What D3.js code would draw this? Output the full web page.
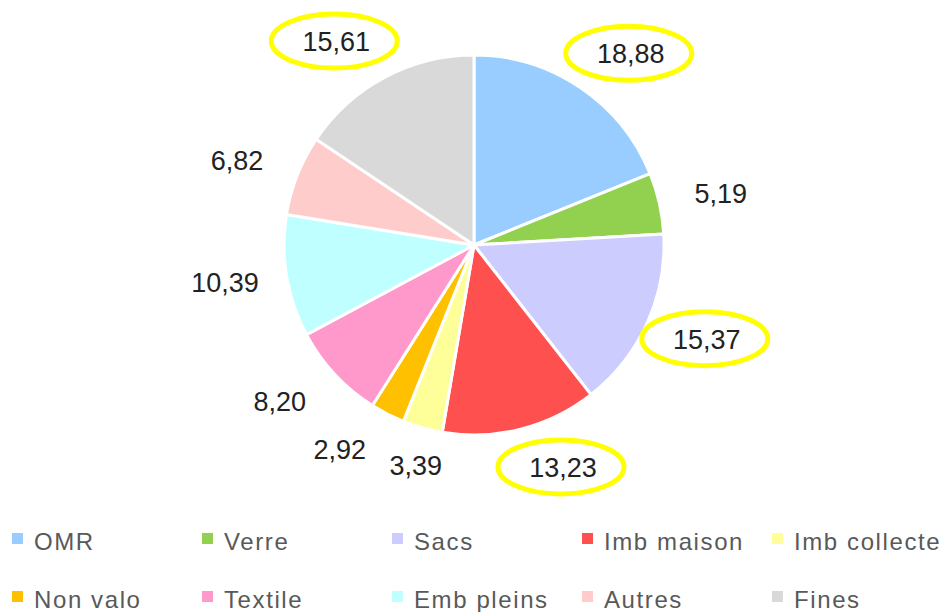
<!DOCTYPE html>
<html>
<head>
<meta charset="utf-8">
<script src="https://cdn.jsdelivr.net/npm/d3@7/dist/d3.min.js"></script>
<style>
  body { margin: 0; background: #fff; }
  svg { display: block; }
</style>
</head>
<body>
<div id="chart"></div>
<script>
const categories = ["OMR", "Verre", "Sacs", "Imb maison", "Imb collecte",
  "Non valo", "Textile", "Emb pleins", "Autres", "Fines"];
const values = [18.88, 5.19, 15.37, 13.23, 3.39, 2.92, 8.20, 10.39, 6.82, 15.61];
const colors = ["#99CCFF", "#92D050", "#CCCCFF", "#FF5050", "#FFFF99",
  "#FFC000", "#FF99CC", "#C0FFFF", "#FFCCCC", "#D9D9D9"];
// labels circled in yellow on the original
const highlighted = ["OMR", "Sacs", "Imb maison", "Fines"];

const width = 951, height = 612;
const cx = 474, cy = 245, radius = 190, labelRadius = 216;
const labelW = 72, labelH = 28;

const svg = d3.select("#chart")
  .append("svg")
  .attr("width", width)
  .attr("height", height);

const data = categories.map((c, i) => ({ name: c, value: values[i], color: colors[i] }));

const pie = d3.pie()
  .value(d => d.value)
  .sort(null);

const arc = d3.arc()
  .innerRadius(0)
  .outerRadius(radius);

const labelArc = d3.arc()
  .innerRadius(labelRadius)
  .outerRadius(labelRadius);

const fmt = v => v.toFixed(2).replace(".", ",");

const g = svg.append("g")
  .attr("transform", "translate(" + cx + "," + cy + ")");

const arcs = pie(data);

g.selectAll("path")
  .data(arcs)
  .enter()
  .append("path")
    .attr("d", arc)
    .attr("fill", d => d.data.color)
    .attr("stroke", "#fff")
    .attr("stroke-width", 3)
    .attr("stroke-linejoin", "round");

// outside-end placement: box sits next to the point on the label ring
arcs.forEach(d => {
  const a = (d.startAngle + d.endAngle) / 2;
  const p = labelArc.centroid(d);
  d.sin = Math.sin(a);
  d.lx = p[0] + Math.sign(d.sin) * labelW / 2;
  d.ly = p[1] - Math.cos(a) * labelH / 2;
});

// push overlapping labels apart (move the one nearer the vertical axis)
for (let i = 0; i < arcs.length; i++) {
  for (let j = i + 1; j < arcs.length; j++) {
    const a = arcs[i], b = arcs[j];
    const ox = labelW + 4 - Math.abs(a.lx - b.lx);
    const oy = labelH - Math.abs(a.ly - b.ly);
    if (ox > 0 && oy > 0) {
      const m = Math.abs(a.sin) < Math.abs(b.sin) ? a : b;
      const o = m === a ? b : a;
      m.lx += (m.lx > o.lx ? 1 : -1) * ox;
    }
  }
}

// data labels
g.selectAll("text.val")
  .data(arcs)
  .enter()
  .append("text")
    .attr("class", "val")
    .attr("x", d => d.lx)
    .attr("y", d => d.ly)
    .attr("text-anchor", "middle")
    .attr("dominant-baseline", "central")
    .style("font-family", "'Liberation Sans', Arial, sans-serif")
    .style("font-size", "27px")
    .style("fill", "#222")
    .text(d => fmt(d.data.value));

// yellow ellipses round the highlighted labels
g.selectAll("ellipse")
  .data(arcs.filter(d => highlighted.includes(d.data.name)))
  .enter()
  .append("ellipse")
    .attr("cx", d => d.lx - 2)
    .attr("cy", d => d.ly - 1)
    .attr("rx", 63)
    .attr("ry", 27)
    .attr("fill", "none")
    .attr("stroke", "#FFFF00")
    .attr("stroke-width", 5);

// legend
const cols = 5;
const legendX = d3.scaleBand()
  .domain(d3.range(cols))
  .range([12, 12 + cols * 190]);

const legendY = d3.scaleBand()
  .domain([0, 1])
  .range([512, 628]);

const legend = svg.selectAll("g.legend")
  .data(data)
  .enter()
  .append("g")
    .attr("class", "legend")
    .attr("transform", (d, i) => "translate(" + legendX(i % cols) + "," + (legendY(Math.floor(i / cols)) + legendY.bandwidth() / 2) + ")");

legend.append("rect")
  .attr("x", 0)
  .attr("y", -8)
  .attr("width", 11)
  .attr("height", 11)
  .attr("fill", d => d.color);

legend.append("text")
  .attr("x", 22)
  .attr("y", 0)
  .attr("dominant-baseline", "central")
  .style("font-family", "'Liberation Sans', Arial, sans-serif")
  .style("font-size", "24px")
  .style("letter-spacing", "1.6px")
  .style("fill", "#595959")
  .text(d => d.name);
</script>
</body>
</html>
